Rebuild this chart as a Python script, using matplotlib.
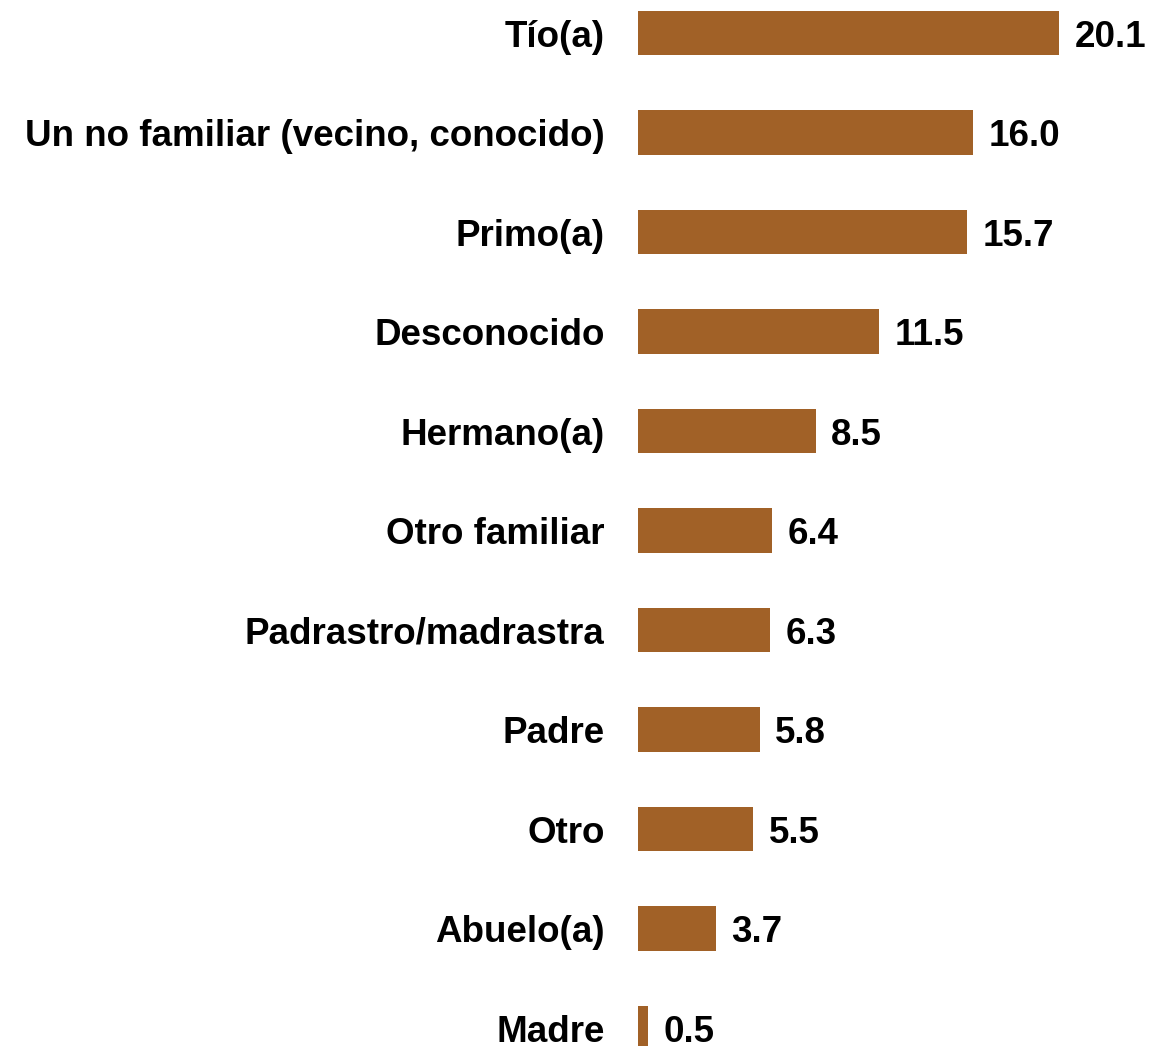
import matplotlib.pyplot as plt
from matplotlib import font_manager

# Arial-like bold (Liberation Sans Bold), fall back to DejaVu if missing
bold_file = None
for f in font_manager.fontManager.ttflist:
    if f.name == 'Liberation Sans' and f.weight == 700 and f.style == 'normal':
        bold_file = f.fname
        break
if bold_file:
    fp = font_manager.FontProperties(fname=bold_file, size=26.5)
else:
    fp = font_manager.FontProperties(family='DejaVu Sans', weight='bold', size=24)

categories = ['Tío(a)', 'Un no familiar (vecino, conocido)', 'Primo(a)', 'Desconocido',
              'Hermano(a)', 'Otro familiar', 'Padrastro/madrastra', 'Padre', 'Otro',
              'Abuelo(a)', 'Madre']
values = [20.1, 16.0, 15.7, 11.5, 8.5, 6.4, 6.3, 5.8, 5.5, 3.7, 0.5]

bar_color = '#A16127'

fig = plt.figure(figsize=(11.5, 10.46), dpi=100)
ax = fig.add_axes([638 / 1150, 0, 512 / 1150, 1])

pos = list(range(len(categories)))
ax.barh(pos, values, height=0.45, color=bar_color)

for y, v in zip(pos, values):
    ax.annotate(f'{v:.1f}', (v, y), xytext=(11, 0), textcoords='offset points',
                ha='left', va='center_baseline', fontproperties=fp)

ax.set_yticks(pos)
ax.set_yticklabels(categories)
for lbl in ax.get_yticklabels():
    lbl.set_fontproperties(fp)
    lbl.set_verticalalignment('center_baseline')
ax.tick_params(axis='y', length=0, pad=24)
ax.set_xticks([])
ax.set_xlim(0, 512 / 20.95)
ax.set_ylim(10.18, -0.332)
for s in ax.spines.values():
    s.set_visible(False)

fig.savefig('out.png', dpi=100, facecolor='white')
